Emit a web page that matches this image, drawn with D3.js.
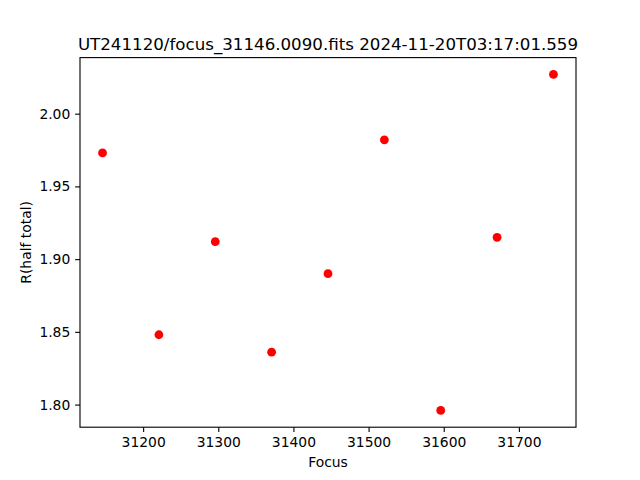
<!DOCTYPE html>
<html>
<head>
<meta charset="utf-8">
<script src="https://cdn.jsdelivr.net/npm/d3@7"></script>
<style>
  html, body { margin: 0; padding: 0; background: #fff; }
  svg { display: block; font-family: "DejaVu Sans", sans-serif; }
</style>
</head>
<body>
<svg id="chart" width="640" height="480"></svg>
<script>
const title = "UT241120/focus_31146.0090.fits 2024-11-20T03:17:01.559";
const xLabel = "Focus";
const yLabel = "R(half total)";
const focusValues = [31146, 31221, 31296, 31371, 31446, 31521, 31596, 31671, 31746];
const radiusValues = [1.973, 1.848, 1.912, 1.836, 1.890, 1.982, 1.796, 1.915, 2.027];
const xTickValues = [31200, 31300, 31400, 31500, 31600, 31700];
const yTickValues = [1.80, 1.85, 1.90, 1.95, 2.00];

const W = 640, H = 480;
const mLeft = 80, mRight = 576, mTop = 57.6, mBottom = 427.2;

const svg = d3.select("#chart");
svg.append("rect").attr("width", W).attr("height", H).attr("fill", "#fff");

function padded(ext) {
  const d = ext[1] - ext[0];
  return [ext[0] - 0.05 * d, ext[1] + 0.05 * d];
}
const x = d3.scaleLinear().domain(padded(d3.extent(focusValues))).range([mLeft, mRight]);
const y = d3.scaleLinear().domain(padded(d3.extent(radiusValues))).range([mBottom, mTop]);

const tickLen = 4.86, tickPad = 4.86;
const fs = "13.89px";

const xAxis = d3.axisBottom(x).tickValues(xTickValues).tickFormat(d3.format("d"))
  .tickSizeInner(tickLen).tickSizeOuter(0).tickPadding(tickPad);
const gx = svg.append("g").attr("transform", `translate(0,${mBottom})`).call(xAxis);
gx.select(".domain").remove();
gx.selectAll(".tick line").attr("stroke", "#000").attr("stroke-width", 1.11);
gx.selectAll(".tick text").attr("font-size", fs).attr("fill", "#000")
  .attr("font-family", "DejaVu Sans, sans-serif");

const yAxis = d3.axisLeft(y).tickValues(yTickValues).tickFormat(d3.format(".2f"))
  .tickSizeInner(tickLen).tickSizeOuter(0).tickPadding(tickPad);
const gy = svg.append("g").attr("transform", `translate(${mLeft},0)`).call(yAxis);
gy.select(".domain").remove();
gy.selectAll(".tick line").attr("stroke", "#000").attr("stroke-width", 1.11);
gy.selectAll(".tick text").attr("font-size", fs).attr("fill", "#000")
  .attr("font-family", "DejaVu Sans, sans-serif");

// points
svg.append("g").selectAll("circle").data(focusValues).join("circle")
  .attr("cx", d => x(d))
  .attr("cy", (d, i) => y(radiusValues[i]))
  .attr("r", 4.4)
  .attr("fill", "#ff0000");

// frame
svg.append("rect")
  .attr("x", mLeft).attr("y", mTop)
  .attr("width", mRight - mLeft).attr("height", mBottom - mTop)
  .attr("fill", "none").attr("stroke", "#000").attr("stroke-width", 1.11);

// title
svg.append("text").attr("x", (mLeft + mRight) / 2).attr("y", 50)
  .attr("text-anchor", "middle").attr("font-size", "16.67px").attr("fill", "#000")
  .text(title);

// x label
svg.append("text").attr("x", (mLeft + mRight) / 2).attr("y", 467)
  .attr("text-anchor", "middle").attr("font-size", fs).attr("fill", "#000")
  .text(xLabel);

// y label
svg.append("text")
  .attr("transform", `translate(31,${(mTop + mBottom) / 2}) rotate(-90)`)
  .attr("text-anchor", "middle").attr("font-size", fs).attr("fill", "#000")
  .text(yLabel);
</script>
</body>
</html>
